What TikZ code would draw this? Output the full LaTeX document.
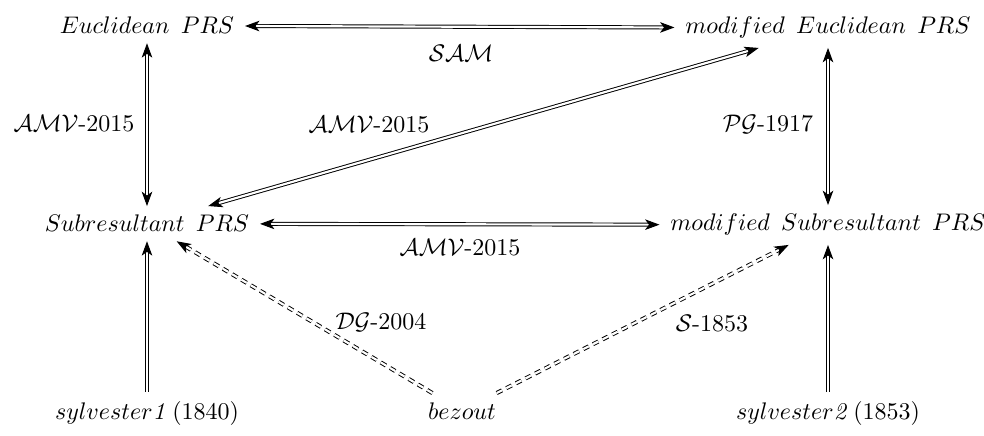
\documentclass[tikz,border=0pt]{standalone}
\usetikzlibrary{arrows.meta}
\newcommand{\wsp}{\hspace{4.7pt}}
\begin{document}
\begin{tikzpicture}[x=0.4167pt, y=-0.4167pt,
  cell/.style={inner xsep=1ex, inner ysep=0.85ex, anchor=base},
  lbl/.style={inner sep=0pt},
  dbl/.style={double, double distance=0.9pt, line width=0.4pt},
  both/.style={dbl, {Stealth[length=6pt,width=4.4pt,inset=1.6pt]}-{Stealth[length=6pt,width=4.4pt,inset=1.6pt]}},
  one/.style={dbl, -{Stealth[length=6pt,width=4.4pt,inset=1.6pt]}},
  dsh/.style={one, dash pattern=on 2.5pt off 2pt}]
\useasboundingbox (0,0) rectangle (984,436);
\node[cell] (E) at (147,34) {$Euclidean\wsp PRS$};
\node[cell] (ME) at (828,34) {$modified\wsp Euclidean\wsp PRS$};
\node[cell] (S) at (147,232) {$Subresultant\wsp PRS$};
\node[cell] (MS) at (828,231) {$modified\wsp Subresultant\wsp PRS$};
\node[cell] (s1) at (147,419) {$sylvester\mathit{1}\,(1840)$};
\node[cell] (bz) at (462,419) {$bezout$};
\node[cell] (s2) at (828,419) {$sylvester\mathit{2}\,(1853)$};

\draw[both] (E) -- (ME);
\draw[both] (E) -- (S);
\draw[both] (S) -- (ME);
\draw[both] (ME) -- (MS);
\draw[both] (S) -- (MS);
\draw[one] (s1) -- (S);
\draw[one] (s2) -- (MS);
\draw[dsh] (bz) -- (S);
\draw[dsh] (bz) -- (MS);

\node[lbl] (l1) at (461,53) {$\mathcal{SAM}$};
\node[lbl] (l2) at (74,124) {$\mathcal{AMV}$-2015};
\node[lbl] (l3) at (369,125) {$\mathcal{AMV}$-2015};
\node[lbl] (l4) at (768,124) {$\mathcal{PG}$-1917};
\node[lbl] (l5) at (460,248) {$\mathcal{AMV}$-2015};
\node[lbl] (l6) at (381,322) {$\mathcal{DG}$-2004};
\node[lbl] (l7) at (712,324) {$\mathcal{S}$-1853};
\end{tikzpicture}
\end{document}
